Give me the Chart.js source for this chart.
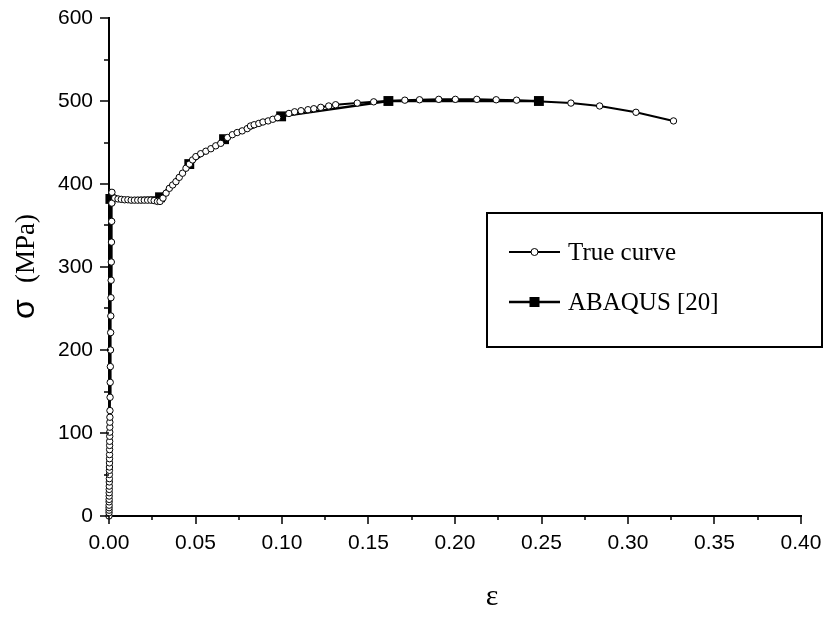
<!DOCTYPE html>
<html>
<head>
<meta charset="utf-8">
<script src="https://cdn.jsdelivr.net/npm/chart.js@4.4.1/dist/chart.umd.min.js"></script>
<style>
  html, body { margin: 0; padding: 0; background: #fff; }
</style>
</head>
<body>
<canvas id="stressChart" width="826" height="617"></canvas>
<script>
// True stress-strain curve
const trueStrain = [
    0, 0.00002, 0.00003, 0.00004, 0.00006, 0.00007, 0.00009, 0.0001, 0.00012, 0.00014,
    0.00016, 0.00018, 0.0002, 0.00022, 0.00024, 0.00026, 0.00028, 0.0003, 0.00032, 0.00035,
    0.00037, 0.00039, 0.00042, 0.00044, 0.00047, 0.00049, 0.00052, 0.00055, 0.00062, 0.0007,
    0.00078, 0.00087, 0.00096, 0.00105, 0.00114, 0.00123, 0.00133, 0.00143, 0.00154, 0.00164,
    0.0017, 0.0033, 0.0052, 0.0071, 0.009, 0.0109, 0.0128, 0.0147, 0.0166, 0.0185,
    0.0204, 0.0223, 0.0242, 0.0261, 0.028, 0.0295, 0.0312, 0.033, 0.0349, 0.0368,
    0.0387, 0.0406, 0.0425, 0.0445, 0.0465, 0.0483, 0.0502, 0.053, 0.056, 0.0589,
    0.0617, 0.0646, 0.0685, 0.0713, 0.0741, 0.077, 0.0799, 0.0818, 0.0839, 0.0866,
    0.089, 0.092, 0.0947, 0.0975, 0.104, 0.1073, 0.111, 0.115, 0.1184, 0.1224,
    0.127, 0.131, 0.1435, 0.153, 0.171, 0.1795, 0.1906, 0.2002, 0.2126, 0.2238,
    0.2356, 0.267, 0.2836, 0.3046, 0.3263
];
const trueStress = [
    0, 4, 7, 10, 13, 17, 20, 24, 28, 32,
    36, 41, 45, 50, 55, 59, 64, 69, 74, 80,
    85, 90, 96, 101, 107, 113, 119, 127, 143, 161,
    180, 200, 221, 241, 263, 284, 306, 330, 355, 377,
    390, 383, 382, 381.5, 381, 381, 380.5, 380.5, 380.5, 380.5,
    380.5, 380.5, 380.5, 380, 379, 379, 383, 389, 394.8, 398.8,
    402.8, 408, 413, 419, 424, 429, 433, 436.5, 439.5, 442.5,
    446, 449, 456, 459.4, 462, 464, 466.7, 469.9, 471.4, 473,
    474.7, 476, 478, 480, 485, 487, 488.3, 489.5, 490.7, 492.4,
    494, 495.5, 497.5, 499, 501, 501.5, 502, 502, 502, 501.5,
    501, 497.5, 494, 486.4, 476
];

// ABAQUS [20] result
const abaqusStrain = [0, 0.0008, 0.0295, 0.0464, 0.0665, 0.0995, 0.1615, 0.2485];
const abaqusStress = [0, 382, 384, 424, 454, 481.5, 500, 500];

// axis tick labels
const xTickLabels = ["0.00", "0.05", "0.10", "0.15", "0.20", "0.25", "0.30", "0.35", "0.40"];
const yTickLabels = ["0", "100", "200", "300", "400", "500", "600"];

const toPoints = (xs, ys) => xs.map((x, i) => ({ x: x, y: ys[i] }));

const labelFor = (labels, value) => {
    const hit = labels.find(l => Math.abs(parseFloat(l) - value) < 1e-6);
    return hit === undefined ? "" : hit;
};

// draws major / minor tick marks on both axes
const tickMarks = {
    id: "tickMarks",
    afterDatasetsDraw(chart) {
        const ctx = chart.ctx;
        const xs = chart.scales.x;
        const ys = chart.scales.y;
        const area = chart.chartArea;
        ctx.save();
        ctx.strokeStyle = "#000";
        ctx.lineWidth = 1.5;
        ctx.beginPath();
        xs.ticks.forEach(t => {
            const px = Math.round(xs.getPixelForValue(t.value));
            const len = t.label !== "" ? 8 : 4;
            ctx.moveTo(px, area.bottom);
            ctx.lineTo(px, area.bottom + len);
        });
        ys.ticks.forEach(t => {
            const py = Math.round(ys.getPixelForValue(t.value));
            const len = t.label !== "" ? 9 : 5;
            ctx.moveTo(area.left, py);
            ctx.lineTo(area.left - len, py);
        });
        ctx.stroke();
        ctx.restore();
    }
};

// axis titles and boxed legend
const decorations = {
    id: "decorations",
    afterDraw(chart) {
        const ctx = chart.ctx;
        const ds = chart.data.datasets;
        ctx.save();
        ctx.fillStyle = "#000";

        // y title: sigma (sans) + (MPa) (serif), rotated
        ctx.save();
        ctx.translate(27, 264);
        ctx.rotate(-Math.PI / 2);
        ctx.textBaseline = "middle";
        ctx.textAlign = "left";
        ctx.font = "32px 'Liberation Sans', Arial, sans-serif";
        ctx.fillText("\u03c3", -55, -2);
        ctx.font = "27px 'Liberation Serif', 'Times New Roman', serif";
        ctx.fillText("(MPa)", -19, 0);
        ctx.restore();

        // x title
        ctx.font = "30px 'Liberation Serif', 'Times New Roman', serif";
        ctx.textAlign = "center";
        ctx.textBaseline = "middle";
        ctx.fillText("\u03b5", 492, 597);

        // legend box
        ctx.lineWidth = 2;
        ctx.strokeStyle = "#000";
        ctx.strokeRect(487, 213, 335, 134);

        const rows = [252, 302];
        ctx.textAlign = "left";
        ctx.font = "25px 'Liberation Serif', 'Times New Roman', serif";
        ds.forEach((d, i) => {
            const y = rows[i];
            ctx.lineWidth = d.borderWidth;
            ctx.beginPath();
            ctx.moveTo(509, y);
            ctx.lineTo(560, y);
            ctx.stroke();
            if (d.pointStyle === "rect") {
                ctx.fillStyle = "#000";
                ctx.fillRect(529.5, y - 5, 10, 10);
            } else {
                ctx.fillStyle = "#fff";
                ctx.lineWidth = 1;
                ctx.beginPath();
                ctx.arc(534.5, y, 3.5, 0, Math.PI * 2);
                ctx.fill();
                ctx.stroke();
            }
            ctx.fillStyle = "#000";
            ctx.fillText(d.label, 568, y + 1);
        });
        ctx.restore();
    }
};

const ctx = document.getElementById("stressChart").getContext("2d");
new Chart(ctx, {
    type: "line",
    data: {
        datasets: [{
            label: "True curve",
            data: toPoints(trueStrain, trueStress),
            borderColor: "#000",
            borderWidth: 2,
            pointStyle: "circle",
            pointRadius: 3.2,
            pointBorderWidth: 1,
            pointBackgroundColor: "#fff",
            pointBorderColor: "#000",
            clip: false
        }, {
            label: "ABAQUS [20]",
            data: toPoints(abaqusStrain, abaqusStress),
            borderColor: "#000",
            borderWidth: 2.5,
            pointStyle: "rect",
            pointRadius: abaqusStrain.map((x, i) => i === 0 ? 0 : 7),
            pointBorderWidth: 0,
            pointBackgroundColor: "#000",
            clip: false
        }]
    },
    options: {
        responsive: false,
        animation: false,
        layout: { padding: { top: 18, right: 25, bottom: 0, left: 0 } },
        plugins: {
            legend: { display: false },
            tooltip: { enabled: false }
        },
        scales: {
            x: {
                type: "linear",
                min: 0,
                max: 0.4,
                afterFit: s => {
                    s.height = 101;
                    s.paddingLeft = 0;
                    s.paddingRight = 0;
                },
                border: { display: true, color: "#000", width: 2 },
                grid: { display: true, drawOnChartArea: false, drawTicks: false },
                ticks: {
                    stepSize: 0.025,
                    autoSkip: false,
                    maxRotation: 0,
                    padding: 15,
                    color: "#000",
                    font: { family: "'Liberation Sans', Arial, sans-serif", size: 21 },
                    callback: v => labelFor(xTickLabels, v)
                }
            },
            y: {
                min: 0,
                max: 600,
                afterFit: s => {
                    s.width = 109;
                    s.paddingTop = 0;
                    s.paddingBottom = 0;
                },
                border: { display: true, color: "#000", width: 2 },
                grid: { display: true, drawOnChartArea: false, drawTicks: false },
                ticks: {
                    stepSize: 50,
                    autoSkip: false,
                    padding: 16,
                    color: "#000",
                    font: { family: "'Liberation Sans', Arial, sans-serif", size: 21 },
                    callback: v => labelFor(yTickLabels, v)
                }
            }
        }
    },
    plugins: [tickMarks, decorations]
});
</script>
</body>
</html>
